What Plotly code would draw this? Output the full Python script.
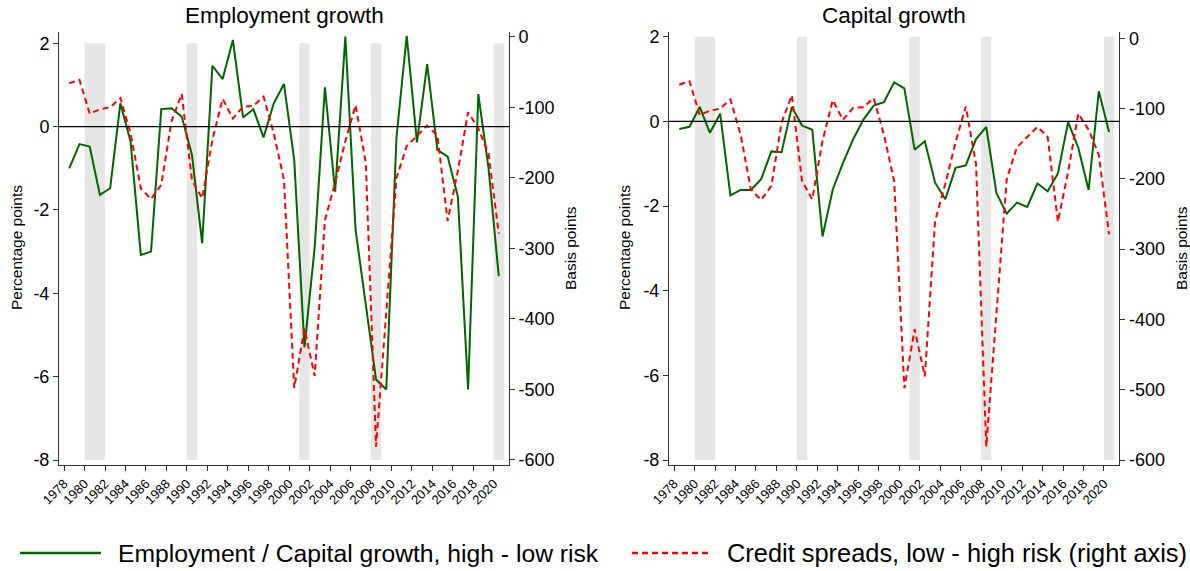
import plotly.graph_objects as go

W, H = 1190, 571

years = list(range(1978, 2021))
employment = [-1.0, -0.42, -0.48, -1.64, -1.48, 0.56, -0.36, -3.08, -3.0, 0.42,
              0.44, 0.24, -0.68, -2.8, 1.46, 1.14, 2.08, 0.22, 0.42, -0.26,
              0.56, 1.02, -0.8, -5.3, -2.9, 0.94, -1.56, 2.16, -2.48, -4.3,
              -6.07, -6.31, -0.25, 2.18, -0.38, 1.5, -0.56, -0.72, -1.68, -6.31,
              0.78, -1.0, -3.59]
capital = [-0.18, -0.13, 0.34, -0.27, 0.18, -1.75, -1.62, -1.62, -1.37, -0.71,
           -0.73, 0.34, -0.1, -0.2, -2.72, -1.61, -0.98, -0.42, 0.04, 0.37,
           0.45, 0.92, 0.78, -0.67, -0.47, -1.45, -1.84, -1.1, -1.04, -0.42,
           -0.13, -1.7, -2.18, -1.92, -2.02, -1.47, -1.65, -1.23, -0.02, -0.63,
           -1.62, 0.71, -0.25]
spreads = [-66, -61, -109, -103, -100, -87, -137, -215, -230, -210,
           -120, -81, -203, -229, -146, -88, -116, -99, -98, -85,
           -137, -203, -498, -414, -481, -260, -207, -148, -97, -179,
           -581, -390, -200, -155, -141, -126, -140, -261, -190, -107,
           -130, -166, -279]
rec_start = [1980, 1990, 2001, 2008, 2020]
rec_end = [1982, 1991, 2002, 2009, 2021]
x_ticks = list(range(1978, 2021, 2))
left_ticks = [-8, -6, -4, -2, 0, 2]
right_ticks = [-600, -500, -400, -300, -200, -100, 0]
titles = ["Employment growth", "Capital growth"]
legend_labels = ["Employment / Capital growth, high - low risk",
                 "Credit spreads, low - high risk (right axis)"]

xpos = [y + 0.5 for y in years]
GREEN = "#006400"
RED = "#ff0000"
FONT = "Liberation Sans, Arial, sans-serif"

fig = go.Figure()

panels = [
    dict(x="x", y="y", y2="y2", growth=employment,
         dom=(59, 509), yr=(-8.12, 2.27), y2r=(-607.1, 6.7)),
    dict(x="x2", y="y3", y2="y4", growth=capital,
         dom=(669, 1119.3), yr=(-8.118, 2.11), y2r=(-607.1, 9.0)),
]

ydom = [1 - 465 / H, 1 - 32 / H]

for i, p in enumerate(panels):
    fig.add_trace(go.Scatter(x=xpos, y=p["growth"], mode="lines", xaxis=p["x"], yaxis=p["y"],
                             line=dict(color=GREEN, width=2), showlegend=False))
    fig.add_trace(go.Scatter(x=xpos, y=spreads, mode="lines", xaxis=p["x"], yaxis=p["y2"],
                             line=dict(color=RED, width=2, dash="6px,4px"), showlegend=False))
    for s, e in zip(rec_start, rec_end):
        fig.add_shape(type="rect", xref=p["x"], yref=p["y"], x0=s, x1=e, y0=-8, y1=2,
                      fillcolor="#e6e6e6", line=dict(width=0), layer="below")
    fig.add_shape(type="line", xref=p["x"] + " domain", yref=p["y"], x0=0, x1=1, y0=0, y1=0,
                  line=dict(color="black", width=1.3))

axis_common = dict(showgrid=False, zeroline=False, showline=True, linecolor="#333333",
                   linewidth=1, ticks="outside", ticklen=5, tickcolor="#333333",
                   automargin=False,
                   tickfont=dict(family=FONT, size=18, color="black"))
xcommon = dict(axis_common)
xcommon["tickfont"] = dict(family=FONT, size=13, color="black")

def lab(v):
    return str(v).replace("\u2212", "-")

layout = dict(
    width=W, height=H, margin=dict(l=0, r=0, t=0, b=0, autoexpand=False),
    paper_bgcolor="white", plot_bgcolor="white", showlegend=False,
    xaxis=dict(xcommon, domain=[59 / W, 509 / W], range=[1977.5, 2021.5], tickvals=x_ticks,
               ticktext=[lab(v) for v in x_ticks], tickangle=-45, anchor="y"),
    yaxis=dict(axis_common, domain=ydom, range=list(panels[0]["yr"]), tickvals=left_ticks,
               ticktext=[lab(v) for v in left_ticks], anchor="x"),
    yaxis2=dict(axis_common, range=list(panels[0]["y2r"]), tickvals=right_ticks,
                ticktext=[lab(v) for v in right_ticks], overlaying="y", side="right", anchor="x"),
    xaxis2=dict(xcommon, domain=[669 / W, 1119.3 / W], range=[1977.5, 2021.5], tickvals=x_ticks,
                ticktext=[lab(v) for v in x_ticks], tickangle=-45, anchor="y3"),
    yaxis3=dict(axis_common, domain=ydom, range=list(panels[1]["yr"]), tickvals=left_ticks,
                ticktext=[lab(v) for v in left_ticks], anchor="x2"),
    yaxis4=dict(axis_common, range=list(panels[1]["y2r"]), tickvals=right_ticks,
                ticktext=[lab(v) for v in right_ticks], overlaying="y3", side="right", anchor="x2"),
)
fig.update_layout(**layout)

ann = []
for t, cx in zip(titles, [284, 894]):
    ann.append(dict(text=t, x=cx / W, y=1 - 15 / H, xref="paper", yref="paper",
                    xanchor="center", yanchor="middle", showarrow=False,
                    font=dict(family=FONT, size=22.5, color="black")))
for t, cx in [("Percentage points", 17), ("Basis points", 571),
              ("Percentage points", 625), ("Basis points", 1182)]:
    ann.append(dict(text=t, x=cx / W, y=1 - 248 / H, xref="paper", yref="paper",
                    xanchor="center", yanchor="middle", showarrow=False, textangle=-90,
                    font=dict(family=FONT, size=15.5, color="black")))
# legend
ly = 1 - 553 / H
fig.add_shape(type="line", xref="paper", yref="paper", x0=20 / W, x1=101 / W, y0=ly, y1=ly,
              line=dict(color=GREEN, width=2.5))
fig.add_shape(type="line", xref="paper", yref="paper", x0=632 / W, x1=712 / W, y0=ly, y1=ly,
              line=dict(color=RED, width=2.5, dash="6px,4px"))
for t, lx, fs in zip(legend_labels, [116, 725], [24.7, 25.4]):
    ann.append(dict(text=t, x=lx / W, y=ly, xref="paper", yref="paper",
                    xanchor="left", yanchor="middle", showarrow=False,
                    font=dict(family=FONT, size=fs, color="black")))
fig.update_layout(annotations=ann)

fig.write_html("out.html")
